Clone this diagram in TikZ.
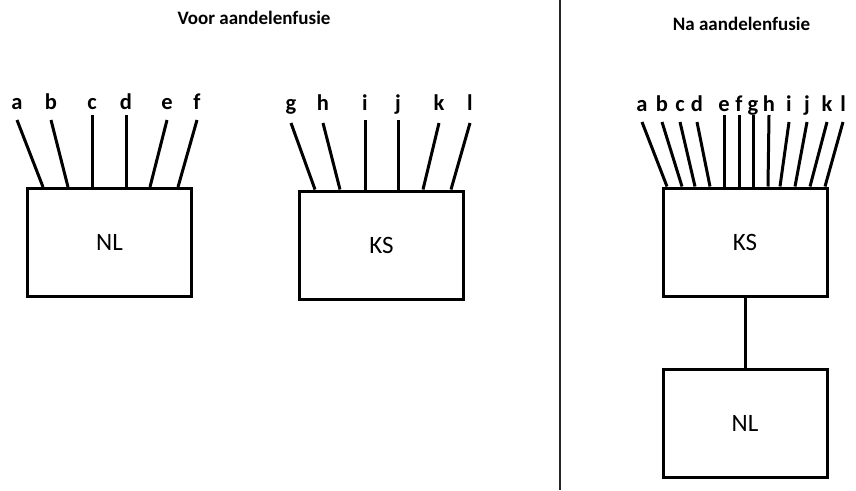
\documentclass[tikz,border=0pt]{standalone}
\usepackage{fontspec}
\setmainfont{Carlito}
\usepackage{tikz}

\tikzset{
  firm/.style={draw, line width=3pt, minimum width=164pt, minimum height=108pt, inner sep=0pt,
    font=\fontsize{25}{30}\selectfont},
  stem/.style={line width=3pt},
  letter/.style={anchor=base, inner sep=0pt, font=\fontsize{22.5}{26}\selectfont\bfseries},
  heading/.style={anchor=base, inner sep=0pt, font=\fontsize{19}{23}\selectfont\bfseries}
}

\begin{document}
\begin{tikzpicture}[x=1pt,y=-1pt]
    \useasboundingbox (0,0) rectangle (856,490);
    % voor
    \node[heading] (voor) at (254,24) {Voor aandelenfusie};
    \node[firm] (nl) at (109.5,242.5) {NL};
    \node[firm] (ks) at (381.5,245) {KS};
    \foreach \n/\tx/\ty/\bx in {a/17/120/43, b/51/120/68, c/92/115/92, d/126/115/126, e/167/120/150, f/197/120/178}{
      \node[letter] (L\n) at (\tx,109) {\n};
      \coordinate (Lt\n) at (\tx,\ty);
      \coordinate (Lb\n) at (\bx,0 |- nl.north);
      \draw[stem] (Lt\n) -- (Lb\n);
    }
    \foreach \n/\tx/\ty/\bx in {g/291/123/315, h/323/123/340, i/365/120/365, j/398/120/398, k/439/123/423, l/470/123/451}{
      \node[letter] (M\n) at (\tx,110) {\n};
      \coordinate (Mt\n) at (\tx,\ty);
      \coordinate (Mb\n) at (\bx,0 |- ks.north);
      \draw[stem] (Mt\n) -- (Mb\n);
    }
    % scheiding
    \coordinate (top) at (560,0);
    \coordinate (bottom) at (560,490);
    \draw[line width=1.3pt, black!85] (top) -- (bottom);
    % na
    \node[heading] (na) at (741.5,30) {Na aandelenfusie};
    \node[firm] (ks2) at (745,242) {KS};
    \node[firm] (nl2) at (745,423.5) {NL};
    \draw[stem] (ks2) -- (nl2);
    \foreach \n/\tx/\ty/\bx in {a/642/122/667, b/662/122/682, c/680/122/695, d/697/122/710, e/724/115/724, f/739/115/739,
        g/753/115/753, h/769/115/768, i/789/122/780, j/807/122/795, k/827/122/810, l/843/122/825}{
      \node[letter] (R\n) at (\tx,111) {\n};
      \coordinate (Rt\n) at (\tx,\ty);
      \coordinate (Rb\n) at (\bx,0 |- ks2.north);
      \draw[stem] (Rt\n) -- (Rb\n);
    }
\end{tikzpicture}
\end{document}
